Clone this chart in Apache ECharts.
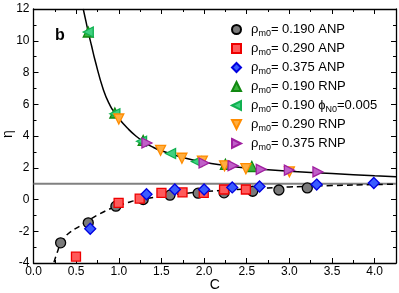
<!DOCTYPE html>
<html>
<head>
<meta charset="utf-8">
<script src="https://cdn.jsdelivr.net/npm/echarts@6/dist/echarts.min.js"></script>
<style>html,body{margin:0;padding:0;background:#fff;}#c{width:399px;height:293px;}</style>
</head>
<body>
<div id="c"></div>
<script>
// ---- data: [C, eta] ----
const anp190 = [[0.318,-2.73],[0.642,-1.47],[0.966,-0.42],[1.286,0.0],[1.6,0.27],[1.93,0.4],[2.234,0.42],[2.57,0.52],[2.877,0.6],[3.21,0.73]];
const anp290 = [[0.498,-3.6],[0.998,-0.21],[1.245,0.06],[1.5,0.42],[1.747,0.45],[1.996,0.42],[2.234,0.63],[2.49,0.63]];
const anp375 = [[0.665,-1.84],[1.325,0.33],[1.657,0.63],[2.0,0.63],[2.33,0.76],[2.65,0.82],[3.32,0.94],[3.99,1.04]];
const rnp190 = [[0.642,10.55],[0.954,5.45],[1.286,3.72],[2.25,2.22],[2.56,2.08]];
const phi190 = [[0.642,10.55],[0.954,5.4],[1.267,3.67],[1.607,2.9],[1.91,2.39]];
const rnp290 = [[1.0,5.07],[1.49,3.1],[1.74,2.6],[1.98,2.42],[2.24,2.12],[2.49,1.94],[3.0,1.74]];
const rnp375 = [[1.33,3.56],[2.0,2.3],[2.34,2.13],[2.67,1.9],[3.0,1.85],[3.335,1.74]];
const fitSolid = [[0.583,12],[0.62,11.1],[0.642,10.55],[0.68,9.7],[0.72,8.8],[0.82,6.9],[0.9,5.9],[0.954,5.45],[1.0,5.1],[1.1,4.5],[1.2,4.0],[1.3,3.62],[1.4,3.3],[1.5,3.07],[1.75,2.65],[2.0,2.35],[2.25,2.15],[2.5,1.98],[2.75,1.87],[3.0,1.78],[3.5,1.63],[4.0,1.5],[4.25,1.44]];
const fitDashed = [[0.24,-3.95],[0.28,-3.3],[0.32,-2.75],[0.38,-2.3],[0.43,-2.05],[0.55,-1.65],[0.65,-1.3],[0.75,-0.98],[0.88,-0.63],[1.0,-0.38],[1.1,-0.2],[1.25,0.0],[1.5,0.2],[1.75,0.37],[2.0,0.5],[2.5,0.66],[3.0,0.79],[3.5,0.88],[4.0,0.94],[4.25,0.96]];
const refLine = [[0,1],[4.25,1]];
const legendNames = ['0.190 ANP','0.290 ANP','0.375 ANP','0.190 RNP','0.190 phi','0.290 RNP','0.375 RNP'];
const legendRich = {
  '0.190 ANP':'{a|ρ}{s|m0}{a|= 0.190 ANP}',
  '0.290 ANP':'{a|ρ}{s|m0}{a|= 0.290 ANP}',
  '0.375 ANP':'{a|ρ}{s|m0}{a|= 0.375 ANP}',
  '0.190 RNP':'{a|ρ}{s|m0}{a|= 0.190 RNP}',
  '0.190 phi':'{a|ρ}{s|m0}{a|= 0.190 ϕ}{s|N0}{a|=0.005}',
  '0.290 RNP':'{a|ρ}{s|m0}{a|= 0.290 RNP}',
  '0.375 RNP':'{a|ρ}{s|m0}{a|= 0.375 RNP}'
};
const FONT = "'Liberation Sans', Arial, Helvetica, sans-serif";
const triLeft = 'path://M0,5L10,0L10,10Z';
const triDown = 'path://M0,0L10,0L5,10Z';
const triRight = 'path://M0,0L10,5L0,10Z';

function pts(name, data, symbol, size, fill, border) {
  return {
    name: name, type: 'scatter', data: data, symbol: symbol, symbolSize: size,
    itemStyle: {color: fill, borderColor: border, borderWidth: 1.3, opacity: 1},
    z: 5
  };
}
const axisCommon = {
  type: 'value',
  axisLine: {show: true, onZero: false, lineStyle: {color: '#000', width: 1.3}},
  axisTick: {show: true, inside: true, length: 5, lineStyle: {color: '#000', width: 1}},
  minorTick: {show: true, splitNumber: 2, length: 3, lineStyle: {color: '#000', width: 1}},
  splitLine: {show: false}
};
const chart = echarts.init(document.getElementById('c'), null, {renderer: 'canvas'});
chart.setOption({
  animation: false,
  backgroundColor: '#fff',
  grid: {left: 33.5, right: 3, top: 9, bottom: 30, containLabel: false, outerBoundsMode: 'none'},
  xAxis: [
    Object.assign({}, axisCommon, {
      min: 0, max: 4.25, interval: 0.5, position: 'bottom',
      name: 'C', nameLocation: 'middle', nameGap: 15, nameMoveOverlap: false,
      nameTextStyle: {fontFamily: FONT, fontSize: 14, color: '#000'},
      axisLabel: {fontFamily: FONT, fontSize: 12, color: '#000', margin: 3, showMaxLabel: false,
        formatter: v => v.toFixed(1)}
    }),
    Object.assign({}, axisCommon, {
      min: 0, max: 4.25, interval: 0.5, position: 'top', axisLabel: {show: false}
    })
  ],
  yAxis: [
    Object.assign({}, axisCommon, {
      min: -4, max: 12, interval: 2, position: 'left',
      axisLabel: {fontFamily: FONT, fontSize: 12, color: '#000', margin: 4}
    }),
    Object.assign({}, axisCommon, {
      min: -4, max: 12, interval: 2, position: 'right', axisLabel: {show: false}
    })
  ],
  legend: {
    orient: 'vertical', left: 231, top: 22, padding: 0,
    itemWidth: 9, itemHeight: 9, itemGap: 3,
    data: legendNames,
    formatter: n => legendRich[n],
    textStyle: {
      fontFamily: FONT, fontSize: 13, color: '#000', lineHeight: 15, padding: [0, 0, 0, 5],
      rich: {
        a: {fontFamily: FONT, fontSize: 13, color: '#000'},
        s: {fontFamily: FONT, fontSize: 9, color: '#000', padding: [8, 0, 0, 0]}
      }
    }
  },
  graphic: [
    {type: 'text', left: 55, top: 28,
      style: {text: 'b', font: "bold 16px " + FONT, fill: '#000'}},
    {type: 'text', x: 8, y: 134, rotation: Math.PI / 2,
      style: {text: 'η', font: "14px " + FONT, fill: '#000', align: 'center', verticalAlign: 'middle'}}
  ],
  series: [
    {type: 'line', data: refLine, showSymbol: false, symbol: 'none', silent: true,
      lineStyle: {color: '#808080', width: 2}, z: 2},
    {type: 'line', data: fitSolid, smooth: true, showSymbol: false, symbol: 'none', silent: true,
      lineStyle: {color: '#000', width: 1.5}, z: 3},
    {type: 'line', data: fitDashed, smooth: true, showSymbol: false, symbol: 'none', silent: true,
      lineStyle: {color: '#000', width: 1.5, type: [6, 4]}, z: 3},
    pts('0.190 ANP', anp190, 'circle', 10, '#7a7a7a', '#000'),
    pts('0.290 ANP', anp290, 'rect', 9, '#ff5a5a', '#ee0000'),
    pts('0.375 ANP', anp375, 'diamond', 11, '#3a5cff', '#0000e0'),
    pts('0.190 RNP', rnp190, 'triangle', 10, '#3cb43c', '#118811'),
    pts('0.190 phi', phi190, triLeft, 10, '#40d080', '#10b050'),
    pts('0.290 RNP', rnp290, triDown, 10, '#ffae40', '#ff8c00'),
    pts('0.375 RNP', rnp375, triRight, 10, '#c060c8', '#a020a0')
  ]
});
</script>
</body>
</html>
